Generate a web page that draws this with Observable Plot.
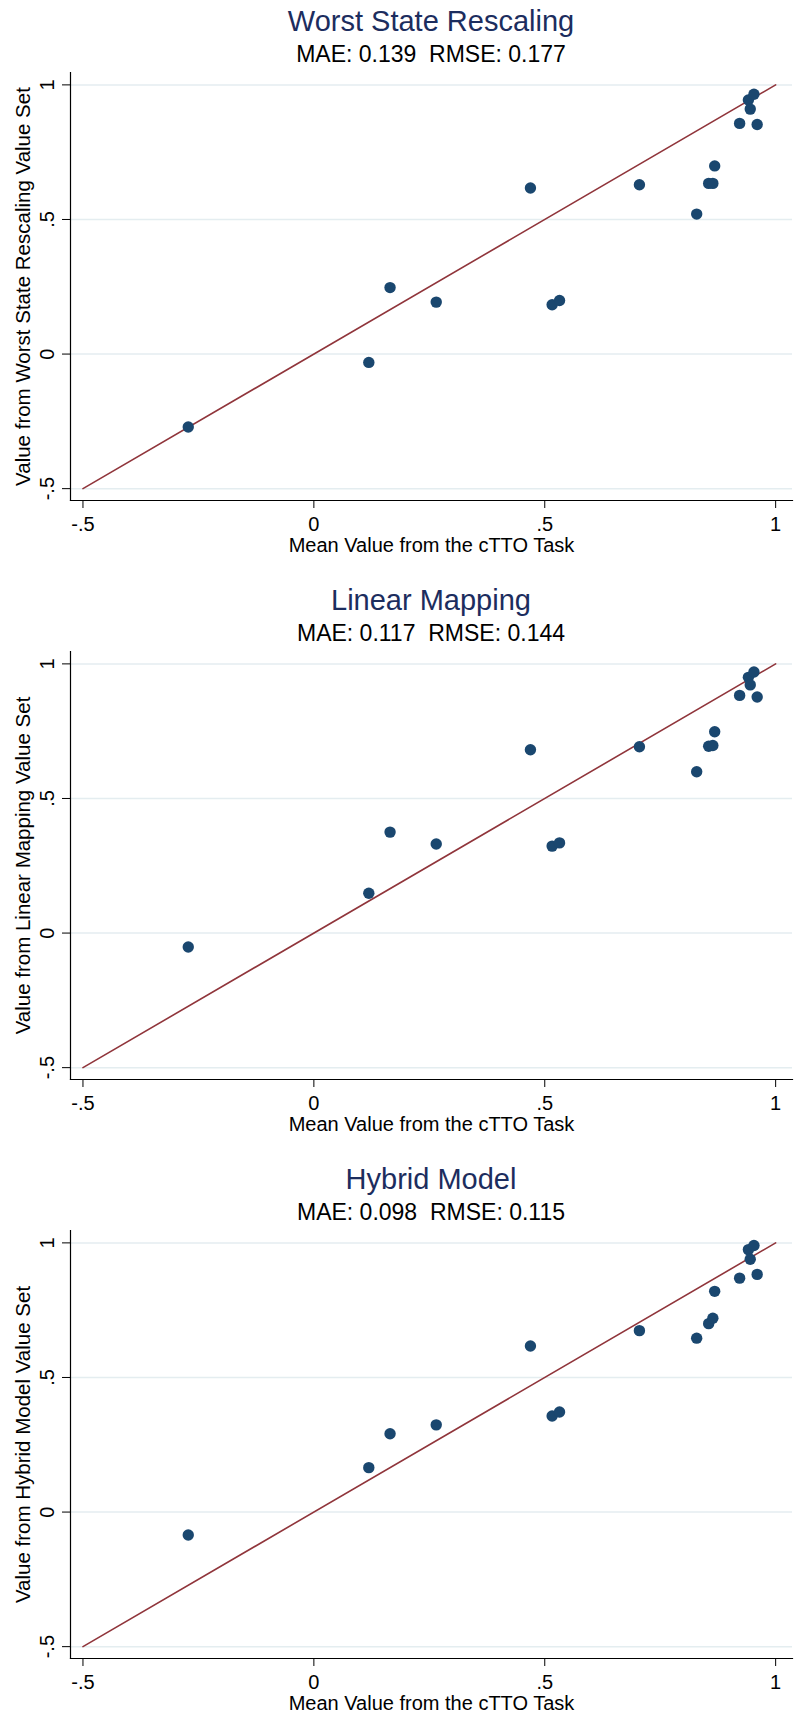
<!DOCTYPE html>
<html>
<head>
<meta charset="utf-8">
<script src="https://cdn.jsdelivr.net/npm/d3@7"></script>
<script src="https://cdn.jsdelivr.net/npm/@observablehq/plot@0.6"></script>
<style>
html, body { margin: 0; padding: 0; overflow: hidden; background: #fff; }
#root { position: relative; width: 795px; height: 1718px; overflow: hidden; font-family: "Liberation Sans", Arial, sans-serif; }
.panel { position: absolute; left: 0; width: 795px; height: 579px; }
.title { position: absolute; left: 70px; width: 722px; text-align: center; font-size: 29px; line-height: 29px; color: #1c2d5e; white-space: pre; }
.sub { position: absolute; left: 70px; width: 722px; text-align: center; font-size: 23px; line-height: 23px; color: #000; white-space: pre; }
.panel svg { position: absolute; left: 0; top: 0; }
</style>
</head>
<body>
<div id="root"></div>
<script>
// Mean value from the cTTO task (x), shared by all three panels
const cttoMean = [-0.272, 0.119, 0.165, 0.265, 0.469, 0.516, 0.532, 0.705, 0.829, 0.855, 0.864, 0.868, 0.922, 0.941, 0.945, 0.953, 0.960];
// Values from each value set (y)
const worstStateValues    = [-0.271, -0.031, 0.247, 0.193, 0.617, 0.183, 0.199, 0.629, 0.520, 0.634, 0.634, 0.699, 0.857, 0.944, 0.910, 0.965, 0.853];
const linearMappingValues = [-0.052, 0.148, 0.375, 0.331, 0.681, 0.323, 0.335, 0.692, 0.599, 0.694, 0.697, 0.748, 0.883, 0.950, 0.922, 0.970, 0.877];
const hybridModelValues   = [-0.085, 0.165, 0.291, 0.324, 0.617, 0.357, 0.372, 0.674, 0.646, 0.700, 0.720, 0.820, 0.869, 0.975, 0.939, 0.990, 0.883];

const panelTitles = ["Worst State Rescaling", "Linear Mapping", "Hybrid Model"];
const panelStats = ["MAE: 0.139  RMSE: 0.177", "MAE: 0.117  RMSE: 0.144", "MAE: 0.098  RMSE: 0.115"];
const yAxisTitles = ["Value from Worst State Rescaling Value Set", "Value from Linear Mapping Value Set", "Value from Hybrid Model Value Set"];
const xAxisTitle = "Mean Value from the cTTO Task";
const axisTicks = [-0.5, 0, 0.5, 1];
const axisTickLabels = ["-.5", "0", ".5", "1"];
const refLine = [-0.5, 1]; // 45-degree line y = x

const seriesValues = [worstStateValues, linearMappingValues, hybridModelValues];

const root = document.getElementById("root");
const fmt = d => axisTickLabels[axisTicks.indexOf(d)];
const FONT = "'Liberation Sans', Arial, sans-serif";

seriesValues.forEach((vals, p) => {
  const panel = document.createElement("div");
  panel.className = "panel";
  panel.style.top = (p * 579) + "px";

  const data = cttoMean.map((x, i) => ({x, y: vals[i]}));

  const chart = Plot.plot({
    width: 795,
    height: 579,
    marginTop: 72,
    marginBottom: 79,
    marginLeft: 70,
    marginRight: 3,
    style: {fontFamily: FONT, background: "transparent", overflow: "visible", color: "#000"},
    x: {domain: [-0.527, 1.0365]},
    y: {domain: [-0.544, 1.046]},
    marks: [
      Plot.gridY(axisTicks, {stroke: "#e4edf0", strokeOpacity: 1, strokeWidth: 1.5}),
      Plot.frame({anchor: "bottom", stroke: "#000", strokeWidth: 1.2}),
      Plot.frame({anchor: "left", stroke: "#000", strokeWidth: 1.2}),
      Plot.line(refLine, {x: d => d, y: d => d, stroke: "#90353b", strokeWidth: 1.6}),
      Plot.dot(data, {x: "x", y: "y", r: 5.7, fill: "#1a476f", stroke: "none"}),
      Plot.axisX(axisTicks, {
        tickFormat: fmt, tickSize: 8, tickPadding: 8.7, fontSize: 20,
        label: xAxisTitle, labelAnchor: "center", labelOffset: 51.4, labelArrow: "none"
      }),
      Plot.axisY(axisTicks, {
        tickFormat: fmt, tickSize: 8, tickPadding: 8.5, tickRotate: -90, fontSize: 20,
        label: null
      }),
      Plot.axisY([], {
        tickSize: 0, fontSize: 20.5,
        label: yAxisTitles[p], labelAnchor: "center", labelOffset: 55, labelArrow: "none"
      })
    ]
  });
  panel.appendChild(chart);

  const t = document.createElement("div");
  t.className = "title";
  t.style.top = "7px";
  t.textContent = panelTitles[p];
  panel.appendChild(t);

  const s = document.createElement("div");
  s.className = "sub";
  s.style.top = "42.5px";
  s.textContent = panelStats[p];
  panel.appendChild(s);

  root.appendChild(panel);
});
</script>
</body>
</html>
